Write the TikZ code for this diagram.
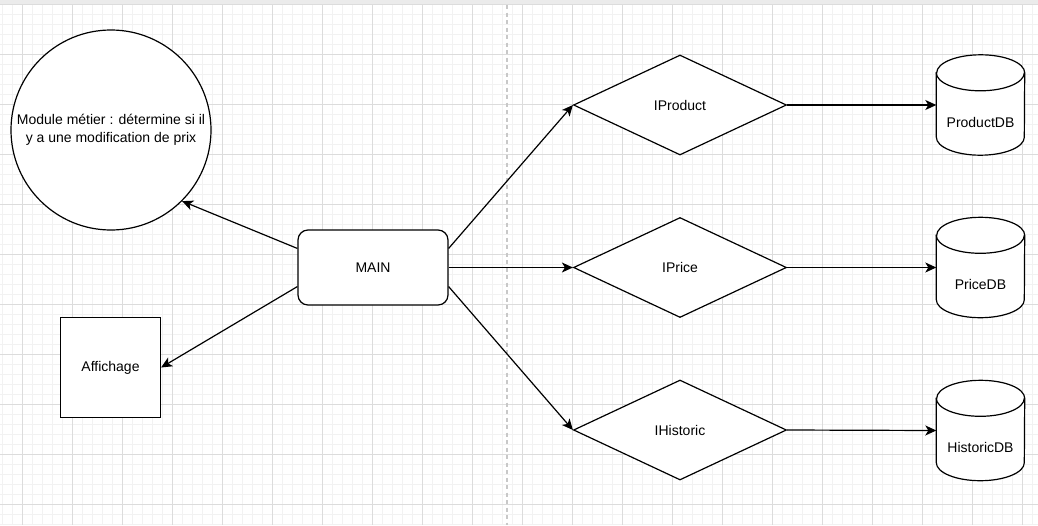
\documentclass[tikz,border=0pt]{standalone}
\usepackage{fontspec}
\setmainfont{Liberation Sans}
\usetikzlibrary{shapes.geometric,arrows.meta,calc,backgrounds}
\definecolor{gridminor}{HTML}{F2F2F2}
\definecolor{gridmajor}{HTML}{DCDCDC}
\definecolor{topband}{HTML}{EBEBEB}
\definecolor{pageline}{HTML}{C8C8C8}
\tikzset{
  shapeline/.style={draw, line width=1.2pt, fill=white, inner sep=0pt,
    font=\fontsize{14}{18}\selectfont},
  module/.style={shapeline, circle, minimum size=200pt, align=center},
  mainbox/.style={shapeline, rectangle, rounded corners=10pt,
    minimum width=150pt, minimum height=75pt},
  screen/.style={shapeline, rectangle, minimum size=100pt},
  iface/.style={shapeline, diamond, minimum width=213pt, minimum height=100pt},
  store/.style={inner sep=0pt, minimum width=88pt, minimum height=100pt,
    text height=47pt, text depth=3pt, font=\fontsize{14}{18}\selectfont},
  dbline/.style={line width=1.2pt},
  link/.style={line width=1.2pt, -{Stealth[length=11pt,width=10pt,inset=3pt]}}
}
\begin{document}
\begin{tikzpicture}[x=1pt,y=-1pt]
  \def\dbrx{44pt}
  \def\dbry{18pt}
  \useasboundingbox (0,0) rectangle (1038,525);
  \begin{scope}[on background layer]
    \fill[white] (0,0) rectangle (1038,525);
    \foreach \gx in {2.7,12.7,...,1038} \draw[gridminor, line width=1pt] (\gx,4.5) -- (\gx,525);
    \foreach \gy in {14.5,24.5,...,525} \draw[gridminor, line width=1pt] (0,\gy) -- (1038,\gy);
    \foreach \gx in {22.7,72.7,...,1038} \draw[gridmajor, line width=1pt] (\gx,4.5) -- (\gx,525);
    \foreach \gy in {4.5,54.5,...,525} \draw[gridmajor, line width=1pt] (0,\gy) -- (1038,\gy);
    \fill[topband] (0,0) rectangle (1038,4);
    \draw[pageline, line width=1.6pt, dash pattern=on 4pt off 3.5pt] (506.7,5) -- (506.7,525);
  \end{scope}

  \node[module] (metier) at (111,130) {Module métier : détermine si il\\y a une modification de prix};
  \node[mainbox] (main) at (373,267.5) {MAIN};
  \node[screen] (affichage) at (110.5,367.5) {Affichage};

  \node[iface] (iproduct) at (680,105) {IProduct};
  \node[iface] (iprice) at (680,267.5) {IPrice};
  \node[iface] (ihistoric) at (680,430) {IHistoric};

  \node[store] (productdb) at (980.5,105) {ProductDB};
  \node[store] (pricedb) at (980.5,267.5) {PriceDB};
  \node[store] (historicdb) at (980.5,430.5) {HistoricDB};

  \begin{scope}[on background layer]
    \foreach \db in {productdb,pricedb,historicdb}{
      \draw[dbline, fill=white] ($(\db.north west)+(0,18)$) -- ($(\db.south west)+(0,-18)$)
        arc[start angle=180, end angle=360, x radius=\dbrx, y radius=\dbry]
        -- ($(\db.north east)+(0,18)$)
        arc[start angle=0, end angle=180, x radius=\dbrx, y radius=\dbry] -- cycle;
      \draw[dbline] ($(\db.north west)+(0,18)$)
        arc[start angle=180, end angle=360, x radius=\dbrx, y radius=\dbry];
    }
  \end{scope}

  \draw[link] ($(main.north west)!.25!(main.south west)$) -- (metier.-45);
  \draw[link] ($(main.north west)!.75!(main.south west)$) -- (affichage.east);
  \draw[link] ($(main.north east)!.25!(main.south east)$) -- (iproduct.west);
  \draw[link] (main.east) -- (iprice.west);
  \draw[link] ($(main.north east)!.75!(main.south east)$) -- (ihistoric.west);
  \draw[link] (iproduct.east) -- (productdb.west);
  \draw[link] (iprice.east) -- (pricedb.west);
  \draw[link] (ihistoric.east) -- (historicdb.west);
\end{tikzpicture}
\end{document}
